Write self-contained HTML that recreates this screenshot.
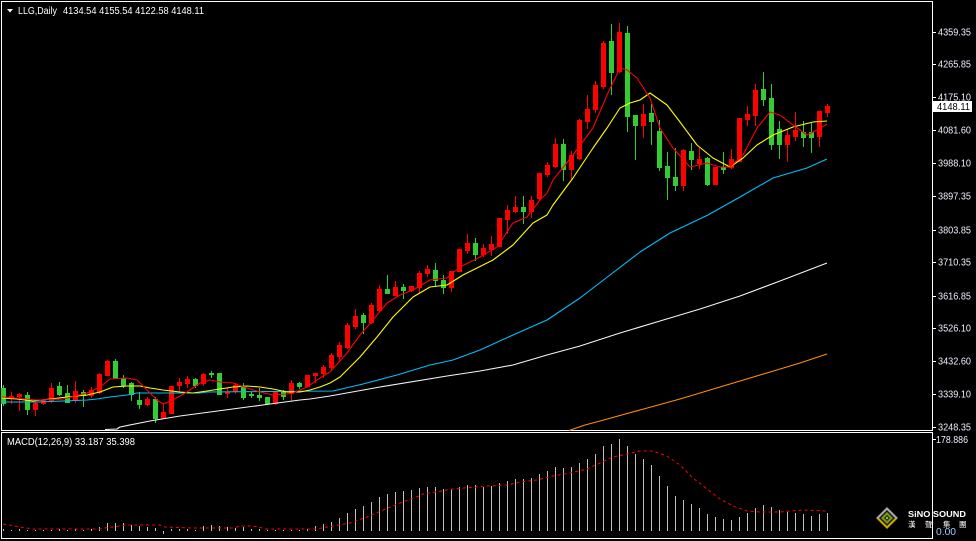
<!DOCTYPE html>
<html><head><meta charset="utf-8"><style>
html,body{margin:0;padding:0;background:#000;}
svg{display:block;}
text{font-family:"Liberation Sans","Noto Sans CJK TC",sans-serif;}
</style></head><body>
<svg width="976" height="541" viewBox="0 0 976 541" xmlns="http://www.w3.org/2000/svg">
<rect width="976" height="541" fill="#000"/>
<!-- borders -->
<g fill="none" stroke="#fff" stroke-width="1" shape-rendering="crispEdges">
<rect x="1.5" y="1.5" width="931" height="429"/>
<rect x="1.5" y="432.5" width="931" height="106"/>
</g>
<!-- header -->
<polygon points="7,9 13,9 10,12.5" fill="#fff"/>
<text x="18" y="14" font-size="10" fill="#fff" textLength="39" lengthAdjust="spacingAndGlyphs">LLG,Daily</text>
<text x="63" y="14" font-size="10" fill="#fff" textLength="141" lengthAdjust="spacingAndGlyphs">4134.54 4155.54 4122.58 4148.11</text>

<!-- price axis ticks & labels -->
<g fill="#fff" shape-rendering="crispEdges">
<rect x="933" y="32" width="3" height="1"/><rect x="933" y="64" width="3" height="1"/><rect x="933" y="97" width="3" height="1"/><rect x="933" y="130" width="3" height="1"/><rect x="933" y="163" width="3" height="1"/><rect x="933" y="196" width="3" height="1"/><rect x="933" y="230" width="3" height="1"/><rect x="933" y="262" width="3" height="1"/><rect x="933" y="296" width="3" height="1"/><rect x="933" y="328" width="3" height="1"/><rect x="933" y="361" width="3" height="1"/><rect x="933" y="394" width="3" height="1"/><rect x="933" y="427" width="3" height="1"/>
<rect x="933" y="439" width="3" height="1"/>
</g>
<g font-size="10" fill="#eef" >
<text x="938" y="35.5" textLength="33" lengthAdjust="spacingAndGlyphs">4359.35</text>
<text x="938" y="67.5" textLength="33" lengthAdjust="spacingAndGlyphs">4265.85</text>
<text x="938" y="100.5" textLength="33" lengthAdjust="spacingAndGlyphs">4175.10</text>
<text x="938" y="133.5" textLength="33" lengthAdjust="spacingAndGlyphs">4081.60</text>
<text x="938" y="166.5" textLength="33" lengthAdjust="spacingAndGlyphs">3988.10</text>
<text x="938" y="199.5" textLength="33" lengthAdjust="spacingAndGlyphs">3897.35</text>
<text x="938" y="233.5" textLength="33" lengthAdjust="spacingAndGlyphs">3803.85</text>
<text x="938" y="265.5" textLength="33" lengthAdjust="spacingAndGlyphs">3710.35</text>
<text x="938" y="299.5" textLength="33" lengthAdjust="spacingAndGlyphs">3616.85</text>
<text x="938" y="331.5" textLength="33" lengthAdjust="spacingAndGlyphs">3526.10</text>
<text x="938" y="364.5" textLength="33" lengthAdjust="spacingAndGlyphs">3432.60</text>
<text x="938" y="397.5" textLength="33" lengthAdjust="spacingAndGlyphs">3339.10</text>
<text x="938" y="430.5" textLength="33" lengthAdjust="spacingAndGlyphs">3248.35</text>
<text x="936" y="443" textLength="32" lengthAdjust="spacingAndGlyphs">178.886</text>
<text x="936" y="535" textLength="20" lengthAdjust="spacingAndGlyphs" fill="#9cf">0.00</text>
</g>
<rect x="933" y="101" width="39" height="11" fill="#fff"/>
<text x="937" y="110" font-size="10" fill="#000" textLength="33" lengthAdjust="spacingAndGlyphs">4148.11</text>

<!-- candles -->
<path fill="#ff0000" shape-rendering="crispEdges" d="M11 392h1v12h-1z M9 396h5v3h-5z M19 393h1v18h-1z M17 394h5v3h-5z M35 402h1v14h-1z M33 403h5v7h-5z M43 399h1v6h-1z M41 400h5v4h-5z M51 383h1v20h-1z M49 388h5v14h-5z M75 381h1v22h-1z M73 391h5v10h-5z M91 387h1v11h-1z M89 390h5v6h-5z M99 373h1v21h-1z M97 374h5v19h-5z M107 360h1v16h-1z M105 361h5v15h-5z M147 397h1v9h-1z M145 399h5v6h-5z M163 403h1v16h-1z M161 412h5v7h-5z M169 386h5v28h-5z M179 378h1v15h-1z M177 382h5v4h-5z M187 376h1v12h-1z M185 379h5v5h-5z M203 373h1v13h-1z M201 374h5v10h-5z M227 388h1v10h-1z M225 392h5v2h-5z M235 383h1v11h-1z M233 385h5v7h-5z M275 392h1v13h-1z M273 392h5v12h-5z M291 380h1v21h-1z M289 383h5v11h-5z M305 375h5v12h-5z M315 373h1v10h-1z M313 373h5v3h-5z M323 365h1v13h-1z M321 367h5v7h-5z M331 353h1v17h-1z M329 355h5v13h-5z M339 342h1v19h-1z M337 345h5v12h-5z M347 323h1v26h-1z M345 325h5v23h-5z M355 309h1v20h-1z M353 316h5v11h-5z M371 303h1v21h-1z M369 305h5v18h-5z M379 285h1v27h-1z M377 289h5v22h-5z M395 281h1v15h-1z M393 287h5v9h-5z M411 286h1v6h-1z M409 286h5v5h-5z M419 271h1v23h-1z M417 273h5v15h-5z M427 265h1v12h-1z M425 269h5v5h-5z M451 271h1v21h-1z M449 271h5v17h-5z M457 249h5v23h-5z M467 234h1v20h-1z M465 243h5v8h-5z M483 244h1v13h-1z M481 248h5v7h-5z M491 236h1v20h-1z M489 244h5v6h-5z M497 218h5v29h-5z M507 205h1v29h-1z M505 210h5v10h-5z M515 196h1v17h-1z M513 207h5v5h-5z M531 196h1v22h-1z M529 200h5v12h-5z M539 173h1v27h-1z M537 173h5v26h-5z M547 162h1v15h-1z M545 165h5v10h-5z M555 138h1v30h-1z M553 144h5v23h-5z M571 151h1v28h-1z M569 155h5v15h-5z M579 119h1v41h-1z M577 120h5v39h-5z M587 95h1v34h-1z M585 109h5v13h-5z M595 81h1v32h-1z M593 85h5v25h-5z M603 41h1v48h-1z M601 43h5v44h-5z M619 23h1v50h-1z M617 32h5v40h-5z M643 104h1v34h-1z M641 114h5v12h-5z M683 149h1v42h-1z M681 150h5v36h-5z M699 148h1v21h-1z M697 159h5v5h-5z M713 167h5v18h-5z M731 149h1v20h-1z M729 159h5v9h-5z M737 118h5v44h-5z M747 106h1v20h-1z M745 114h5v6h-5z M755 84h1v42h-1z M753 90h5v26h-5z M787 129h1v33h-1z M785 135h5v10h-5z M795 112h1v29h-1z M793 130h5v7h-5z M819 111h1v36h-1z M817 111h5v26h-5z M827 104h1v13h-1z M825 106h5v7h-5z"/>
<path fill="#32cd32" shape-rendering="crispEdges" d="M3 385h1v21h-1z M1 388h5v16h-5z M27 392h1v23h-1z M25 395h5v15h-5z M59 382h1v14h-1z M57 386h5v9h-5z M67 385h1v18h-1z M65 393h5v10h-5z M83 390h1v17h-1z M81 392h5v4h-5z M115 359h1v20h-1z M113 361h5v18h-5z M123 375h1v13h-1z M121 378h5v8h-5z M131 382h1v19h-1z M129 383h5v12h-5z M139 392h1v17h-1z M137 400h5v5h-5z M155 397h1v26h-1z M153 399h5v20h-5z M195 378h1v10h-1z M193 379h5v7h-5z M211 371h1v7h-1z M209 373h5v2h-5z M217 373h5v22h-5z M243 383h1v17h-1z M241 387h5v11h-5z M251 392h1v6h-1z M249 394h5v2h-5z M259 388h1v13h-1z M257 395h5v3h-5z M267 397h1v8h-1z M265 397h5v7h-5z M283 390h1v10h-1z M281 392h5v5h-5z M299 382h1v7h-1z M297 383h5v4h-5z M363 313h1v21h-1z M361 315h5v8h-5z M387 275h1v19h-1z M385 289h5v5h-5z M403 284h1v15h-1z M401 287h5v4h-5z M435 263h1v24h-1z M433 270h5v11h-5z M443 275h1v19h-1z M441 280h5v8h-5z M475 238h1v23h-1z M473 243h5v12h-5z M523 196h1v28h-1z M521 207h5v5h-5z M563 139h1v42h-1z M561 144h5v26h-5z M611 24h1v71h-1z M609 41h5v32h-5z M627 26h1v106h-1z M625 33h5v84h-5z M635 115h1v45h-1z M633 115h5v11h-5z M651 104h1v41h-1z M649 113h5v9h-5z M659 120h1v51h-1z M657 131h5v37h-5z M667 152h1v48h-1z M665 166h5v12h-5z M675 148h1v43h-1z M673 177h5v9h-5z M691 143h1v27h-1z M689 151h5v9h-5z M707 157h1v29h-1z M705 158h5v27h-5z M723 152h1v22h-1z M721 167h5v3h-5z M763 72h1v34h-1z M761 89h5v11h-5z M771 84h1v66h-1z M769 98h5v47h-5z M779 121h1v38h-1z M777 129h5v16h-5z M803 121h1v26h-1z M801 132h5v6h-5z M811 123h1v30h-1z M809 132h5v6h-5z"/>

<!-- moving averages -->
<g fill="none" stroke-width="1.1" stroke-linejoin="round">
<polyline stroke="#ff8c00" points="569,430.5 585,425 600,421 640,410 680,399 720,387 760,375 800,363 827,354"/>
<polyline stroke="#f4f4f4" points="105,429.5 117,429 120,427 150,421 180,416 210,412 240,408 270,404 300,400 310,399 330,396 380,387 447,376 480,371 513,365 547,355 580,346 620,333 660,321 700,309 740,296 780,281 827,263"/>
<polyline stroke="#00bfff" points="2,402 37,402 63,401 87,400 97,399 110,397 127,395 137,393 200,393 207,392 333,391 363,384 397,375 430,365 453,360 480,350 513,335 547,320 580,298 610,275 640,252 670,233 708,215 740,197 773,178 807,168 827,159"/>
<polyline stroke="#ffff00" points="2,398 17,399 33,401 50,399 67,397 87,395 100,392 113,387 127,386 140,386 150,388 163,390 180,392 193,393 207,391 220,389 233,387 247,386 260,387 273,389 287,392 300,392 310,390 320,387 330,383 340,377 360,357 377,337 393,317 413,297 430,287 447,285 463,275 493,260 513,245 533,223 547,215 553,205 573,178 593,148 607,128 620,108 630,103 640,100 650,93 667,105 680,122 697,145 713,158 730,167 743,158 757,145 773,135 793,127 813,122 827,121"/>
<polyline stroke="#ff0000" points="2,397 37,400 63,399 87,393 100,387 110,379 127,378 137,380 147,390 157,400 163,404 173,400 187,392 200,383 210,380 220,382 233,383 247,388 260,392 273,395 287,394 293,393 307,387 320,378 330,372 347,353 360,335 373,320 387,303 400,295 413,290 430,280 447,278 460,267 480,257 497,247 513,223 527,217 540,200 547,193 553,180 573,155 593,128 607,95 620,68 627,70 637,78 650,98 660,128 673,148 690,167 707,163 720,167 730,167 743,155 757,128 770,112 780,115 793,125 807,135 817,130 827,124"/>
</g>

<!-- MACD -->
<text x="7" y="445" font-size="10" fill="#fff" textLength="128" lengthAdjust="spacingAndGlyphs">MACD(12,26,9) 33.187 35.398</text>
<path fill="#c0c0c0" shape-rendering="crispEdges" d="M3 529h1v2h-1z M11 530h1v1h-1z M19 529h1v2h-1z M27 530h1v1h-1z M35 530h1v1h-1z M43 530h1v1h-1z M51 530h1v1h-1z M59 529h1v2h-1z M67 530h1v1h-1z M75 529h1v2h-1z M83 530h1v1h-1z M91 529h1v2h-1z M99 527h1v4h-1z M107 523h1v8h-1z M115 523h1v8h-1z M123 523h1v8h-1z M131 525h1v6h-1z M139 526h1v5h-1z M147 527h1v4h-1z M155 528h1v3h-1z M163 531h1v3h-1z M171 529h1v2h-1z M179 529h1v2h-1z M187 529h1v2h-1z M195 530h1v1h-1z M203 526h1v5h-1z M211 525h1v6h-1z M219 526h1v5h-1z M227 527h1v4h-1z M235 528h1v3h-1z M243 527h1v4h-1z M251 529h1v2h-1z M259 529h1v2h-1z M267 530h1v1h-1z M275 530h1v1h-1z M283 530h1v1h-1z M291 530h1v1h-1z M299 530h1v1h-1z M307 529h1v2h-1z M315 526h1v5h-1z M323 524h1v7h-1z M331 522h1v9h-1z M339 518h1v13h-1z M347 513h1v18h-1z M355 509h1v22h-1z M363 506h1v25h-1z M371 502h1v29h-1z M379 497h1v34h-1z M387 494h1v37h-1z M395 492h1v39h-1z M403 491h1v40h-1z M411 490h1v41h-1z M419 488h1v43h-1z M427 487h1v44h-1z M435 487h1v44h-1z M443 489h1v42h-1z M451 489h1v42h-1z M459 487h1v44h-1z M467 485h1v46h-1z M475 485h1v46h-1z M483 487h1v44h-1z M491 486h1v45h-1z M499 483h1v48h-1z M507 481h1v50h-1z M515 479h1v52h-1z M523 479h1v52h-1z M531 478h1v53h-1z M539 474h1v57h-1z M547 471h1v60h-1z M555 467h1v64h-1z M563 468h1v63h-1z M571 467h1v64h-1z M579 463h1v68h-1z M587 459h1v72h-1z M595 454h1v77h-1z M603 446h1v85h-1z M611 444h1v87h-1z M619 439h1v92h-1z M627 446h1v85h-1z M635 454h1v77h-1z M643 459h1v72h-1z M651 465h1v66h-1z M659 476h1v55h-1z M667 486h1v45h-1z M675 496h1v35h-1z M683 500h1v31h-1z M691 504h1v27h-1z M699 508h1v23h-1z M707 514h1v17h-1z M715 517h1v14h-1z M723 519h1v12h-1z M731 520h1v11h-1z M739 517h1v14h-1z M747 513h1v18h-1z M755 508h1v23h-1z M763 505h1v26h-1z M771 507h1v24h-1z M779 510h1v21h-1z M787 512h1v19h-1z M795 513h1v18h-1z M803 514h1v17h-1z M811 516h1v15h-1z M819 514h1v17h-1z M827 513h1v18h-1z"/>
<polyline fill="none" stroke="#ff0000" stroke-width="1" stroke-dasharray="3,3" points="3,524 20,527 33,529 100,529 105,528 120,526 127,525 160,525 165,527 190,528 233,528 240,526 253,526 267,529 316,529 333,526 350,523 367,517 383,510 400,503 419,496 423,494 453,489 487,486 507,485 520,482 537,480 553,476 570,473 587,469 600,463 613,457 627,454 640,451 653,451 667,456 680,465 693,478 707,489 720,499 733,506 747,511 760,512 780,512 803,510 827,511"/>

<!-- logo -->
<polygon points="876,518 887,507 898,518" fill="#a8a8a8"/>
<polygon points="876,518 887,529 898,518" fill="#c9a800"/>
<polygon points="879,518 887,510 895,518 887,526" fill="#1a1a1a"/>
<polygon points="881,518 887,512 893,518 887,524" fill="#7a9a10"/>
<polygon points="884,518 887,515 890,518 887,521" fill="#222"/>
<polygon points="885.5,518 887,516.5 888.5,518 887,519.5" fill="#9c3"/>
<text x="908" y="517" font-size="8.5" font-weight="bold" fill="#fff" textLength="58" lengthAdjust="spacingAndGlyphs">SiNO SOUND</text>
<g font-size="7.5" fill="#fff" font-family="'Noto Sans CJK TC',sans-serif">
<text x="908" y="527">漢</text>
<text x="925" y="527">聲</text>
<text x="943" y="527">集</text>
<text x="959" y="527">團</text>
</g>
</svg>
</body></html>
